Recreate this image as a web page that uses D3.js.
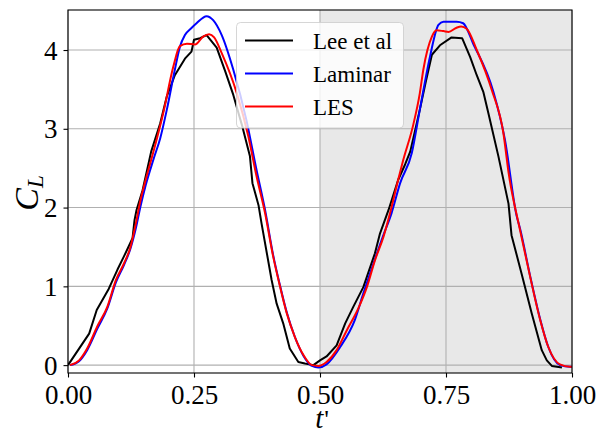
<!DOCTYPE html>
<html>
<head>
<meta charset="utf-8">
<script src="https://cdn.jsdelivr.net/npm/d3@7"></script>
<style>
  html, body { margin: 0; padding: 0; background: #ffffff; }
  svg { display: block; }
  text { font-family: "Liberation Serif", "Times New Roman", serif; fill: #000; }
</style>
</head>
<body>
<svg id="chart" width="607" height="434"></svg>
<script>
// Lift coefficient over one normalised period t'
const leeT = [0, 0.022, 0.042, 0.057, 0.081, 0.098, 0.111, 0.128, 0.132, 0.136, 0.148, 0.165, 0.183, 0.196, 0.212, 0.232, 0.245, 0.250, 0.262, 0.275, 0.295, 0.312, 0.328, 0.345, 0.361, 0.366, 0.378, 0.384, 0.404, 0.414, 0.427, 0.440, 0.457, 0.470, 0.487, 0.500, 0.513, 0.533, 0.550, 0.566, 0.586, 0.609, 0.619, 0.636, 0.655, 0.669, 0.679, 0.698, 0.710, 0.722, 0.738, 0.761, 0.782, 0.798, 0.811, 0.824, 0.834, 0.854, 0.874, 0.880, 0.900, 0.920, 0.940, 0.950, 0.960, 0.980];
const leeCL = [0, 0.21, 0.40, 0.70, 0.97, 1.21, 1.38, 1.61, 1.84, 1.97, 2.22, 2.71, 3.07, 3.41, 3.68, 3.89, 3.98, 4.13, 4.15, 4.19, 4.03, 3.73, 3.43, 3.05, 2.65, 2.31, 2.03, 1.80, 1.08, 0.78, 0.53, 0.21, 0.04, 0.02, 0.0, 0.06, 0.11, 0.25, 0.53, 0.74, 0.99, 1.42, 1.67, 1.97, 2.35, 2.55, 2.71, 3.24, 3.60, 3.94, 4.06, 4.16, 4.15, 3.91, 3.68, 3.47, 3.20, 2.65, 2.05, 1.65, 1.16, 0.66, 0.19, 0.06, -0.01, -0.03];

const lamT = [0.004, 0.022, 0.038, 0.058, 0.078, 0.095, 0.111, 0.124, 0.134, 0.144, 0.154, 0.170, 0.183, 0.196, 0.212, 0.222, 0.232, 0.245, 0.255, 0.275, 0.288, 0.305, 0.328, 0.354, 0.374, 0.391, 0.407, 0.421, 0.434, 0.450, 0.467, 0.484, 0.497, 0.513, 0.540, 0.569, 0.586, 0.606, 0.624, 0.642, 0.659, 0.682, 0.698, 0.718, 0.735, 0.745, 0.771, 0.784, 0.804, 0.844, 0.867, 0.890, 0.897, 0.917, 0.937, 0.953, 0.976, 0.996, 1.0];
const lamCL = [0, 0.05, 0.19, 0.46, 0.72, 1.05, 1.27, 1.48, 1.72, 2.02, 2.28, 2.62, 2.88, 3.24, 3.75, 4.04, 4.19, 4.28, 4.34, 4.43, 4.38, 4.19, 3.75, 3.11, 2.48, 1.97, 1.40, 1.00, 0.67, 0.36, 0.12, -0.01, -0.03, 0.01, 0.23, 0.57, 0.91, 1.29, 1.62, 1.93, 2.31, 2.69, 3.24, 3.91, 4.32, 4.36, 4.36, 4.34, 4.08, 3.47, 2.86, 1.90, 1.73, 1.13, 0.58, 0.23, 0.0, -0.02, -0.02];

const lesT = [0.004, 0.022, 0.038, 0.058, 0.078, 0.095, 0.111, 0.124, 0.134, 0.144, 0.154, 0.170, 0.189, 0.209, 0.222, 0.236, 0.252, 0.268, 0.280, 0.290, 0.305, 0.335, 0.358, 0.374, 0.391, 0.407, 0.421, 0.434, 0.450, 0.467, 0.484, 0.497, 0.513, 0.533, 0.553, 0.576, 0.593, 0.609, 0.626, 0.639, 0.655, 0.665, 0.685, 0.698, 0.705, 0.722, 0.731, 0.745, 0.755, 0.770, 0.780, 0.791, 0.811, 0.841, 0.864, 0.874, 0.897, 0.917, 0.937, 0.953, 0.976, 0.996, 1.0];
const lesCL = [0, 0.06, 0.21, 0.49, 0.74, 1.08, 1.29, 1.50, 1.78, 2.10, 2.35, 2.72, 3.20, 3.79, 4.05, 4.08, 4.07, 4.17, 4.20, 4.16, 3.96, 3.45, 2.90, 2.40, 1.93, 1.38, 0.99, 0.66, 0.36, 0.13, 0.0, -0.01, 0.04, 0.19, 0.44, 0.72, 0.99, 1.33, 1.63, 1.93, 2.35, 2.60, 3.05, 3.45, 3.75, 4.17, 4.25, 4.24, 4.23, 4.28, 4.30, 4.27, 4.00, 3.49, 2.94, 2.45, 1.71, 1.12, 0.57, 0.23, 0.01, -0.02, -0.02];

const seriesNames = ["Lee et al", "Laminar", "LES"];
const seriesColors = ["#000000", "#0000ff", "#ff0000"];

const xTicks = [0, 0.25, 0.5, 0.75, 1.0];
const yTicks = [0, 1, 2, 3, 4];
const shadeRange = [0.5, 1.0];

const svg = d3.select("#chart");
const plot = { left: 68, right: 572, top: 10, bottom: 373 };

const x = d3.scaleLinear().domain([0, 1]).range([plot.left, plot.right]);
const y = d3.scaleLinear().domain([-0.1, 4.508]).range([plot.bottom, plot.top]);

// shaded second half-period
svg.append("rect")
  .attr("x", x(shadeRange[0]))
  .attr("y", plot.top)
  .attr("width", x(shadeRange[1]) - x(shadeRange[0]))
  .attr("height", plot.bottom - plot.top)
  .attr("fill", "#e8e8e8");

// grid
const grid = svg.append("g").attr("stroke", "#b0b0b0").attr("stroke-width", 1.1);
grid.selectAll("line.gx").data(xTicks).join("line")
  .attr("x1", d => x(d)).attr("x2", d => x(d))
  .attr("y1", plot.top).attr("y2", plot.bottom);
grid.selectAll("line.gy").data(yTicks).join("line")
  .attr("x1", plot.left).attr("x2", plot.right)
  .attr("y1", d => y(d)).attr("y2", d => y(d));

// curves: measured data as polyline, simulations smooth
const series = [
  { pts: d3.zip(leeT, leeCL), curve: d3.curveLinear },
  { pts: d3.zip(lamT, lamCL), curve: d3.curveMonotoneX },
  { pts: d3.zip(lesT, lesCL), curve: d3.curveMonotoneX }
];
svg.append("clipPath").attr("id", "clip").append("rect")
  .attr("x", plot.left).attr("y", plot.top)
  .attr("width", plot.right - plot.left).attr("height", plot.bottom - plot.top);
svg.append("g").attr("clip-path", "url(#clip)")
  .selectAll("path").data(series).join("path")
  .attr("d", s => d3.line().curve(s.curve).x(d => x(d[0])).y(d => y(d[1]))(s.pts))
  .attr("fill", "none")
  .attr("stroke", (d, i) => seriesColors[i])
  .attr("stroke-width", 2)
  .attr("stroke-linejoin", "round");

// axes
const xAxis = d3.axisBottom(x).tickValues(xTicks).tickFormat(d3.format(".2f")).tickSize(4.5).tickPadding(5);
const yAxis = d3.axisLeft(y).tickValues(yTicks).tickFormat(d3.format("d")).tickSize(4.5).tickPadding(6);

const gx = svg.append("g").attr("transform", `translate(0,${plot.bottom})`).call(xAxis);
const gy = svg.append("g").attr("transform", `translate(${plot.left},0)`).call(yAxis);
[gx, gy].forEach(g => {
  g.select(".domain").remove();
  g.selectAll(".tick line").attr("stroke", "#000").attr("stroke-width", 1.1);
  g.selectAll(".tick text")
    .attr("font-family", "Liberation Serif, serif")
    .attr("font-size", 27)
    .attr("fill", "#000");
});
gx.selectAll(".tick text").attr("dy", 21);
gy.selectAll(".tick text").attr("dy", 9);

// frame
svg.append("rect")
  .attr("x", plot.left).attr("y", plot.top)
  .attr("width", plot.right - plot.left).attr("height", plot.bottom - plot.top)
  .attr("fill", "none").attr("stroke", "#000").attr("stroke-width", 1.1);

// axis labels
const xl = svg.append("text")
  .attr("x", x(0.5) + 2).attr("y", 428)
  .attr("text-anchor", "middle")
  .attr("font-size", 29)
  .attr("font-style", "italic");
xl.append("tspan").text("t");
xl.append("tspan")
  .attr("font-style", "normal")
  .attr("font-size", 26)
  .attr("dx", 1)
  .text("'");

const yl = svg.append("text")
  .attr("transform", "translate(38,193) rotate(-90)")
  .attr("text-anchor", "middle")
  .attr("font-size", 34)
  .attr("font-style", "italic");
yl.append("tspan").text("C");
yl.append("tspan").attr("font-size", 23).attr("dy", 5).text("L");

// legend
const legend = svg.append("g");
legend.append("rect")
  .attr("x", 236.5).attr("y", 22.5)
  .attr("width", 167).attr("height", 105.5)
  .attr("rx", 4)
  .attr("fill", "#ffffff").attr("fill-opacity", 0.8)
  .attr("stroke", "#cccccc").attr("stroke-opacity", 0.8);
const rows = legend.selectAll("g.row").data(seriesNames).join("g")
  .attr("transform", (d, i) => `translate(0,${40.5 + i * 33})`);
rows.append("line")
  .attr("x1", 245).attr("x2", 293)
  .attr("stroke", (d, i) => seriesColors[i])
  .attr("stroke-width", 2);
rows.append("text")
  .attr("x", 313).attr("y", 8)
  .attr("font-size", 23)
  .text(d => d);
</script>
</body>
</html>
